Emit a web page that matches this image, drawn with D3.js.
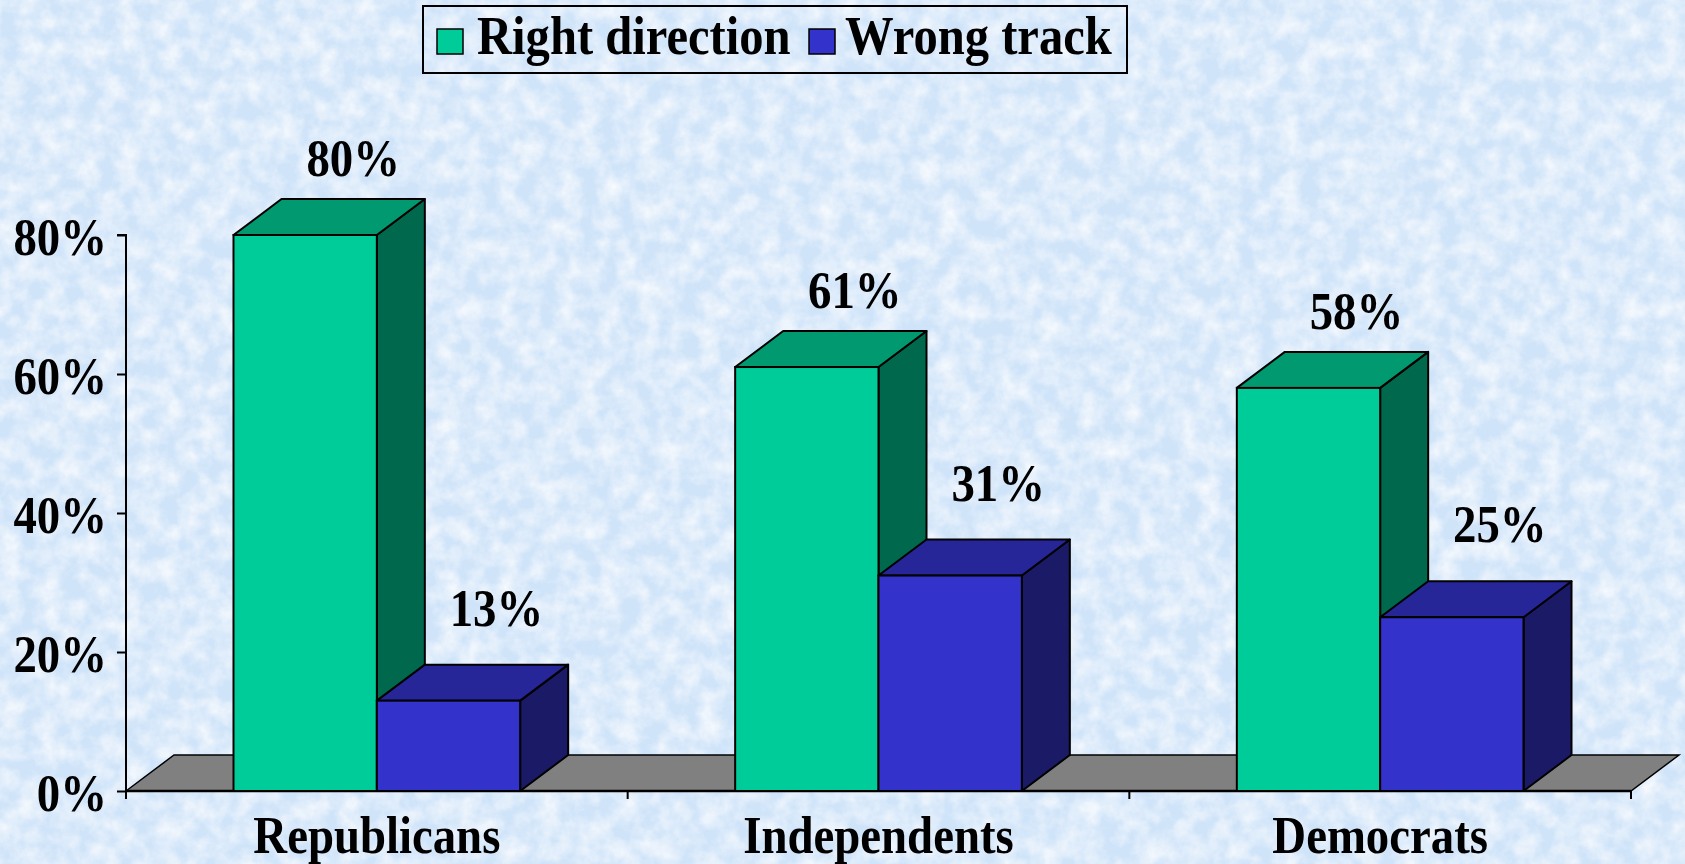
<!DOCTYPE html>
<html>
<head>
<meta charset="utf-8">
<script src="https://cdn.jsdelivr.net/npm/d3@7/dist/d3.min.js"></script>
<style>
  html, body { margin: 0; padding: 0; background: #d3e5f9; }
  svg { display: block; }
  text { font-family: "Liberation Serif", "Times New Roman", serif; font-weight: bold; fill: #000; }
</style>
</head>
<body>
<svg id="chart" width="1685" height="864"></svg>
<script>
// ---------- data ----------
const categories = ["Republicans", "Independents", "Democrats"];
const seriesNames = ["Right direction", "Wrong track"];
const rightDirection = [80, 61, 58];
const wrongTrack = [13, 31, 25];
const yTickValues = [0, 20, 40, 60, 80];

// ---------- styles ----------
const W = 1685, H = 864;
const plot = { left: 126, right: 1631, top: 235, bottom: 791 };
const depth = { dx: 48, dy: 36 };
const font = { size: 52, squeeze: 0.9 };
const colors = {
  "Right direction": { front: "#00cc99", top: "#009970", side: "#00684d", labelGap: 23 },
  "Wrong track":     { front: "#3333cc", top: "#262699", side: "#1a1a66", labelGap: 39 }
};

const svg = d3.select("#chart");

// background texture
const defs = svg.append("defs");
const f = defs.append("filter").attr("id", "tex").attr("x", 0).attr("y", 0).attr("width", "100%").attr("height", "100%");
f.append("feTurbulence").attr("type", "fractalNoise").attr("baseFrequency", "0.05").attr("numOctaves", 4).attr("seed", 11).attr("result", "n");
f.append("feColorMatrix").attr("in", "n").attr("type", "matrix")
  .attr("values", "0 0 0 0 1  0 0 0 0 1  0 0 0 0 1  0 0 0 1.3 -0.42").attr("result", "w");
f.append("feComposite").attr("in", "w").attr("in2", "SourceGraphic").attr("operator", "over");
svg.append("rect").attr("width", W).attr("height", H).attr("fill", "#d0e4f9").attr("filter", "url(#tex)");

// helper: squeezed (narrow) text placed at x,y
function sqText(sel, x, y, size) {
  return sel.attr("x", 0).attr("y", 0)
    .attr("transform", (d, i) => `translate(${typeof x === "function" ? x(d, i) : x},${typeof y === "function" ? y(d, i) : y}) scale(${font.squeeze},1)`)
    .attr("font-size", size || font.size);
}

// ---------- scales ----------
const y = d3.scaleLinear().domain([0, 80]).range([plot.bottom, plot.top]);
const x0 = d3.scaleBand().domain(categories).range([plot.left, plot.right]).padding(0);
const x1 = d3.scaleBand().domain(seriesNames).range([0, x0.bandwidth()]).paddingInner(0).paddingOuter(0.75);

const rows = categories.map((c, i) => ({
  cat: c,
  values: [
    { series: "Right direction", v: rightDirection[i] },
    { series: "Wrong track", v: wrongTrack[i] }
  ]
}));

// ---------- floor ----------
const { dx, dy } = depth;
svg.append("polygon")
  .attr("points", [
    [plot.left, y(0)], [plot.left + dx, y(0) - dy],
    [plot.right + dx, y(0) - dy], [plot.right, y(0)]
  ].map(p => p.join(",")).join(" "))
  .attr("fill", "#808080").attr("stroke", "#000").attr("stroke-width", 1.5);

// ---------- axes ----------
const yAxis = d3.axisLeft(y).tickValues(yTickValues).tickSize(9).tickPadding(10)
  .tickFormat(d => d + "%");
const gy = svg.append("g").attr("transform", `translate(${plot.left},0)`).call(yAxis);
gy.select(".domain").attr("stroke", "#000").attr("stroke-width", 2).attr("d", `M-9,${y(80)}H0V${y(0)}`);
gy.selectAll(".tick line").attr("stroke", "#000").attr("stroke-width", 2);
gy.selectAll(".tick text")
  .attr("dy", null)
  .style("font-family", "'Liberation Serif', 'Times New Roman', serif").style("font-weight", "bold").attr("fill", "#000")
  .call(s => sqText(s, -19, 19));

// x axis line and boundary ticks
const xg = svg.append("g");
xg.append("line").attr("x1", plot.left).attr("x2", plot.right).attr("y1", y(0)).attr("y2", y(0))
  .attr("stroke", "#000").attr("stroke-width", 2.5);
const bounds = categories.map(c => x0(c)).concat([x0(categories[categories.length - 1]) + x0.bandwidth()]);
xg.selectAll("line.tk").data(bounds).join("line").attr("class", "tk")
  .attr("x1", d => d).attr("x2", d => d).attr("y1", y(0)).attr("y2", y(0) + 8)
  .attr("stroke", "#000").attr("stroke-width", 2);
xg.selectAll("text.cat").data(categories).join("text").attr("class", "cat")
  .attr("text-anchor", "middle").text(d => d)
  .call(s => sqText(s, d => x0(d) + x0.bandwidth() / 2, y(0) + 62));

// ---------- bars ----------
const groups = svg.append("g").selectAll("g.cat").data(rows).join("g").attr("class", "cat");
groups.each(function (row) {
  const g = d3.select(this);
  row.values.forEach(d => {
    const xl = x0(row.cat) + x1(d.series);
    const w = x1.bandwidth();
    const yt = y(d.v), yb = y(0);
    const c = colors[d.series];
    const bg = g.append("g");
    bg.append("polygon")
      .attr("points", [[xl + w, yt], [xl + w + dx, yt - dy], [xl + w + dx, yb - dy], [xl + w, yb]].map(p => p.join(",")).join(" "))
      .attr("fill", c.side).attr("stroke", "#000").attr("stroke-width", 2).attr("stroke-linejoin", "round");
    bg.append("polygon")
      .attr("points", [[xl, yt], [xl + dx, yt - dy], [xl + w + dx, yt - dy], [xl + w, yt]].map(p => p.join(",")).join(" "))
      .attr("fill", c.top).attr("stroke", "#000").attr("stroke-width", 2).attr("stroke-linejoin", "round");
    bg.append("rect").attr("x", xl).attr("y", yt).attr("width", w).attr("height", yb - yt)
      .attr("fill", c.front).attr("stroke", "#000").attr("stroke-width", 2);
  });
});

// value labels (drawn on top)
const labels = [];
rows.forEach(row => row.values.forEach(d => labels.push({ cat: row.cat, ...d })));
svg.append("g").selectAll("text.val").data(labels).join("text").attr("class", "val")
  .attr("text-anchor", "middle").text(d => d.v + "%")
  .call(s => sqText(s,
    d => x0(d.cat) + x1(d.series) + x1.bandwidth() / 2 + dx,
    d => y(d.v) - dy - colors[d.series].labelGap));

// ---------- legend ----------
const lg = svg.append("g");
lg.append("rect").attr("x", 423).attr("y", 6).attr("width", 704).attr("height", 67)
  .attr("fill", "none").attr("stroke", "#000").attr("stroke-width", 2);
const legendItems = [
  { name: seriesNames[0], sx: 437, tx: 477 },
  { name: seriesNames[1], sx: 809, tx: 845 }
];
legendItems.forEach(it => {
  lg.append("rect").attr("x", it.sx).attr("y", 29).attr("width", 26).attr("height", 25)
    .attr("fill", colors[it.name].front).attr("stroke", "#000").attr("stroke-width", 1.5);
  lg.append("text").datum(it).text(it.name)
    .call(s => sqText(s, it.tx, 54, 54));
});
</script>
</body>
</html>
